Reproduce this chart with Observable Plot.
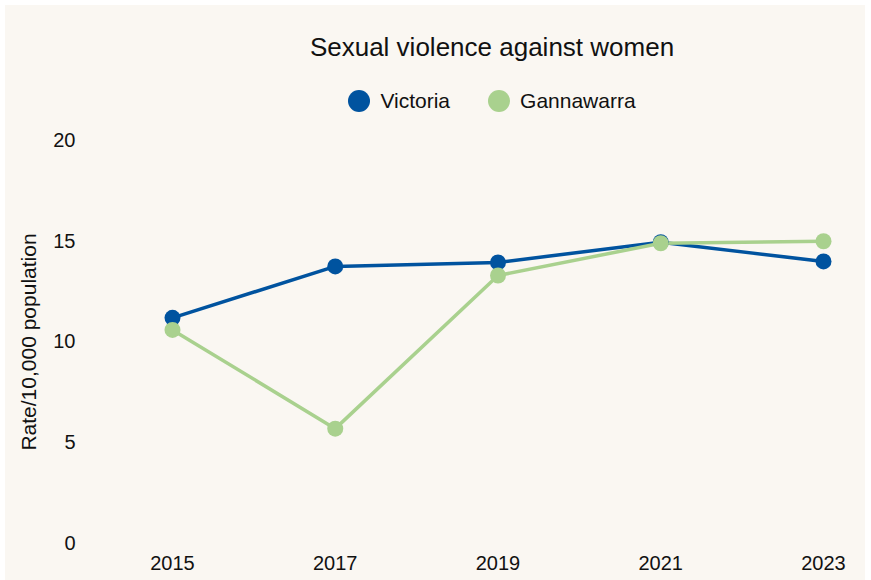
<!DOCTYPE html>
<html>
<head>
<meta charset="utf-8">
<script src="https://cdn.jsdelivr.net/npm/d3@7"></script>
<script src="https://cdn.jsdelivr.net/npm/@observablehq/plot@0.6"></script>
<style>
  html, body { margin: 0; padding: 0; background: #ffffff; }
  body { font-family: "Liberation Sans", Arial, sans-serif; }
  #wrap { position: relative; width: 871px; height: 580px; background: #ffffff; overflow: hidden; }
  #panel { position: absolute; left: 5px; top: 5px; width: 860px; height: 575px; background: #faf7f2; }
  #title { position: absolute; left: 192px; width: 600px; top: 32px; text-align: center; font-size: 26px; color: #111; line-height: 30px; }
  #legend { position: absolute; left: 192px; width: 600px; top: 88px; display: flex; justify-content: center; align-items: center; font-size: 21px; color: #111; line-height: 26px; }
  .item { display: flex; align-items: center; margin: 0 19px; }
  .sw { width: 22px; height: 22px; border-radius: 50%; margin-right: 10px; }
  #chart { position: absolute; left: 0; top: 120px; }
</style>
</head>
<body>
<div id="wrap">
  <div id="panel"></div>
  <div id="title"></div>
  <div id="legend"></div>
  <div id="chart"></div>
</div>
<script>
const titleText = "Sexual violence against women";
const yLabel = "Rate/10,000 population";
const years = [2015, 2017, 2019, 2021, 2023];
const seriesNames = ["Victoria", "Gannawarra"];
const seriesColors = ["#00539f", "#a9d18e"];
const victoria = [11.2, 13.75, 13.95, 14.95, 14.0];
const gannawarra = [10.6, 5.7, 13.3, 14.9, 15.0];
const yTicks = [0, 5, 10, 15, 20];

document.getElementById("title").textContent = titleText;
const legend = document.getElementById("legend");
seriesNames.forEach((n, i) => {
  const it = document.createElement("div");
  it.className = "item";
  const sw = document.createElement("div");
  sw.className = "sw";
  sw.style.background = seriesColors[i];
  const tx = document.createElement("span");
  tx.textContent = n;
  it.appendChild(sw); it.appendChild(tx);
  legend.appendChild(it);
});

const rows = [];
years.forEach((yr, i) => rows.push({year: yr, value: victoria[i], series: seriesNames[0]}));
years.forEach((yr, i) => rows.push({year: yr, value: gannawarra[i], series: seriesNames[1]}));

const chart = Plot.plot({
  width: 871,
  height: 460,
  marginTop: 20,
  marginBottom: 37,
  marginLeft: 172,
  marginRight: 48,
  style: { background: "transparent", fontFamily: "Liberation Sans, Arial, sans-serif", fontSize: "20px", color: "#111" },
  x: { domain: [2015, 2023] },
  y: { domain: [0, 20] },
  color: { domain: seriesNames, range: seriesColors },
  marks: [
    Plot.axisX({ ticks: years, tickFormat: d => String(d), tickSize: 0, tickPadding: 12, label: null, fontSize: 20 }),
    Plot.axisY({ ticks: yTicks, tickSize: 0, tickPadding: 97, label: null, fontSize: 20 }),
    Plot.axisY({ ticks: [], tickSize: 0, label: yLabel, labelAnchor: "center", labelArrow: "none", labelOffset: 151, fontSize: 21 }),
    Plot.line(rows, { x: "year", y: "value", z: "series", stroke: "series", strokeWidth: 3.5 }),
    Plot.dot(rows, { x: "year", y: "value", fill: "series", r: 8 })
  ]
});
document.getElementById("chart").appendChild(chart);
</script>
</body>
</html>
